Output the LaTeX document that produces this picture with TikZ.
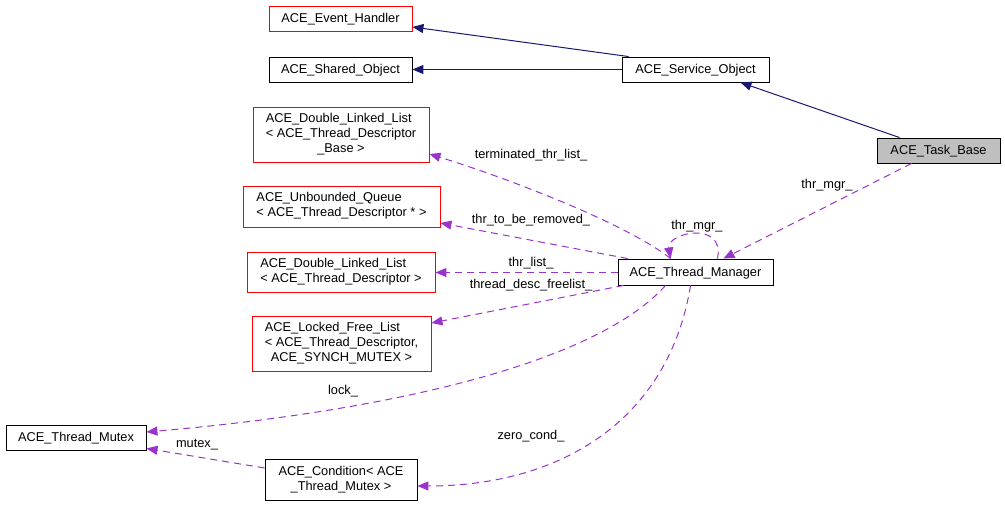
\documentclass[tikz,border=0pt]{standalone}
\usepackage{fontspec}
\setmainfont{Liberation Sans}
\usetikzlibrary{arrows.meta,calc}
\definecolor{edgeblue}{HTML}{191970}
\definecolor{edgepurple}{HTML}{9A32CD}
\definecolor{taskgray}{HTML}{BFBFBF}
\newcommand\mlines[1]{\begin{tabular}{@{}l@{}}#1\end{tabular}}
\newcommand\lastc[1]{\multicolumn{1}{@{}c@{}}{#1}}
\begin{document}
\begin{tikzpicture}[x=1pt,y=-1pt,
  font=\fontsize{12.8}{15}\selectfont,
  bbox/.style={draw=black, line width=0.9pt, inner sep=0pt, align=center},
  rbox/.style={bbox, draw=red},
  gbox/.style={bbox, fill=taskgray},
  one/.style={text depth=0.5pt},
  lbl/.style={inner sep=0pt},
  inh/.style={draw=edgeblue, line width=1pt, -{Triangle[length=11pt,width=9pt]}},
  use/.style={draw=edgepurple, line width=1pt, dash pattern=on 7pt off 5pt, -{Triangle[length=11pt,width=9pt]}}]
\useasboundingbox (0,0) rectangle (1005,505);
% nodes
\node[rbox, one, minimum width=143pt, minimum height=25pt] (eh) at (340.5,18.5) {ACE\_Event\_Handler};
\node[bbox, one, minimum width=143pt, minimum height=25pt] (so) at (340.5,69.5) {ACE\_Shared\_Object};
\node[bbox, one, minimum width=147pt, minimum height=25pt] (svc) at (695.5,69.5) {ACE\_Service\_Object};
\node[gbox, one, minimum width=123pt, minimum height=25pt] (tb) at (938.5,150.5) {ACE\_Task\_Base};
\node[rbox, minimum width=176pt, minimum height=55pt] (dllb) at (341,134.5) {\mlines{ACE\_Double\_Linked\_List\\ {<} ACE\_Thread\_Descriptor\\ \lastc{\_Base {>}}}};
\node[rbox, minimum width=197pt, minimum height=41pt] (uq) at (341.5,206.5) {\mlines{ACE\_Unbounded\_Queue\\ \lastc{{<} ACE\_Thread\_Descriptor * {>}}}};
\node[rbox, minimum width=188pt, minimum height=40pt] (dlld) at (341,272) {\mlines{ACE\_Double\_Linked\_List\\ \lastc{{<} ACE\_Thread\_Descriptor {>}}}};
\node[rbox, minimum width=179pt, minimum height=55pt] (lfl) at (341.5,343.5) {\mlines{ACE\_Locked\_Free\_List\\ {<} ACE\_Thread\_Descriptor,\\ \lastc{ACE\_SYNCH\_MUTEX {>}}}};
\node[bbox, one, minimum width=155pt, minimum height=26pt] (tm) at (695.5,272) {ACE\_Thread\_Manager};
\node[bbox, one, minimum width=140pt, minimum height=25pt] (mtx) at (76,437.5) {ACE\_Thread\_Mutex};
\node[bbox, minimum width=152pt, minimum height=41pt] (cond) at (341,479.5) {\mlines{ACE\_Condition{<} ACE\\ \lastc{\_Thread\_Mutex {>}}}};
% inheritance
\draw[inh] ([xshift=7pt]svc.north west) -- ([yshift=-8.5pt]eh.east);
\draw[inh] (svc.west) -- (so.east);
\draw[inh] ([xshift=23pt]tb.north west) -- ([xshift=-29pt]svc.south east);
% usage
\draw[use] ([xshift=53pt]tm.north west) .. controls +(-40,-32) and +(90,28) .. ([yshift=-19.5pt]dllb.east);
\draw[use] ([xshift=10pt]tm.north west) -- ([yshift=-16.5pt]uq.east);
\draw[use] ([yshift=-0.5pt]tm.west) -- ([yshift=-0.5pt]dlld.east);
\draw[use] ([xshift=6pt]tm.south west) -- ([yshift=20.5pt]lfl.east);
\draw[use] ([xshift=48pt]tm.south west) .. controls +(-67,75) and +(254,-22) .. ([yshift=5.5pt]mtx.east);
\draw[use] ([xshift=73pt]tm.south west) .. controls +(-22,135) and +(143,0) .. ([yshift=-6.5pt]cond.east);
\draw[use] ([yshift=11.5pt]cond.west) -- ([yshift=2pt]mtx.south east);
\draw[use] ([xshift=35pt]tb.south west) -- ([xshift=-50pt]tm.north east);
\coordinate (looptop) at (696,233);
\draw[use] ([xshift=-56pt]tm.north east) .. controls +(4,-20) and +(12,0) .. (looptop) .. controls +(-14,0) and +(-3,-18) .. ([xshift=53pt]tm.north west);
% labels
\node[lbl] (l1) at (531,155) {terminated\_thr\_list\_};
\node[lbl] (l2) at (531,220) {thr\_to\_be\_removed\_};
\node[lbl] (l3) at (531,263) {thr\_list\_};
\node[lbl] (l4) at (531,285) {thread\_desc\_freelist\_};
\node[lbl] (l5) at (343,391) {lock\_};
\node[lbl] (l6) at (531,436) {zero\_cond\_};
\node[lbl] (l7) at (197,445) {mutex\_};
\node[lbl] (l8) at (697,226) {thr\_mgr\_};
\node[lbl] (l9) at (827,185) {thr\_mgr\_};
\end{tikzpicture}
\end{document}
